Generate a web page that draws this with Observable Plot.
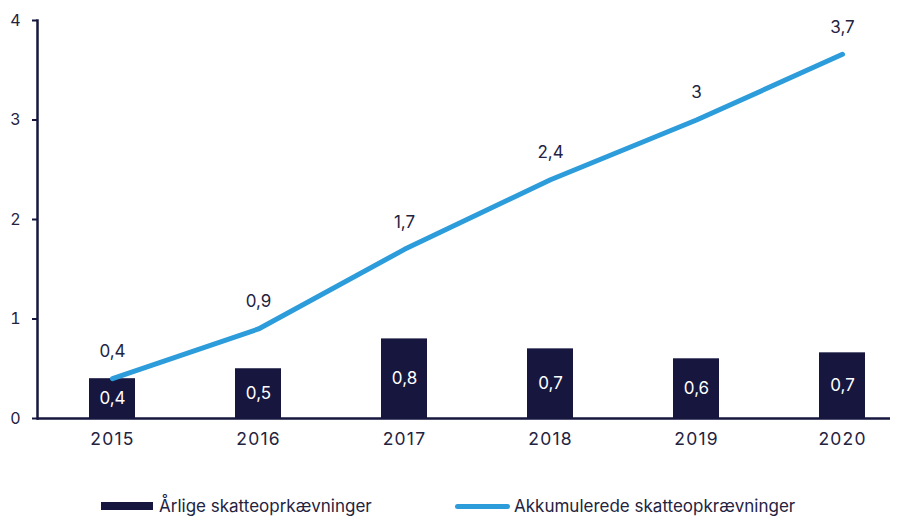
<!DOCTYPE html>
<html>
<head>
<meta charset="utf-8">
<script src="https://cdn.jsdelivr.net/npm/d3@7"></script>
<script src="https://cdn.jsdelivr.net/npm/@observablehq/plot@0.6"></script>
<style>
  body { margin: 0; background: #fff; font-family: Inter, "Noto Sans", sans-serif; color: #23233f; }
  #legend { position: relative; height: 40px; margin-top: 46px; font-size: 17px; }
  .item { position: absolute; top: 0; display: flex; align-items: center; height: 20px; }
  .sw-bar { width: 52px; height: 8px; background: #16163f; margin-right: 6px; }
  .sw-line { width: 55px; height: 5px; border-radius: 3px; background: #2d9cdb; margin-right: 4px; }
  svg g[aria-label="x-axis tick label"] text { letter-spacing: 1.2px; }
</style>
</head>
<body>
<div id="chart"></div>
<div id="legend">
  <div class="item" style="left:101px"><span class="sw-bar"></span><span>Årlige skatteoprkævninger</span></div>
  <div class="item" style="left:455px"><span class="sw-line"></span><span>Akkumulerede skatteopkrævninger</span></div>
</div>
<script>
const years = ["2015", "2016", "2017", "2018", "2019", "2020"];
const annual = [0.4, 0.5, 0.8, 0.7, 0.6, 0.66];
const cumulative = [0.4, 0.9, 1.7, 2.4, 3.0, 3.66];
const yTicks = [0, 1, 2, 3, 4];

const fmt = v => d3.format(".1~f")(v).replace(".", ",");
const barData = years.map((y, i) => ({year: y, value: annual[i]}));
const lineData = years.map((y, i) => ({year: y, value: cumulative[i]}));

const navy = "#16163f";
const blue = "#2d9cdb";
const textCol = "#23233f";

const chart = Plot.plot({
  width: 905,
  height: 450,
  marginTop: 20,
  marginBottom: 32,
  marginLeft: 37,
  marginRight: 15,
  style: {fontFamily: "Inter, 'Noto Sans', sans-serif", fontSize: "16px", color: textCol, background: "#fff"},
  x: {type: "band", domain: years, range: [37, 916], paddingInner: 0.686, paddingOuter: 0.341, label: null},
  y: {domain: [0, 4], label: null},
  marks: [
    Plot.axisY({ticks: yTicks, tickSize: 5, tickPadding: 12, tickFormat: d => String(d), stroke: navy, strokeWidth: 2, fill: textCol, fontSize: 16}),
    Plot.axisX({tickSize: 0, tickPadding: 14, fill: textCol, fontSize: 17.5}),
    Plot.frame({anchor: "left", stroke: navy, strokeWidth: 2.5}),
    Plot.barY(barData, {x: "year", y: "value", fill: navy}),
    Plot.ruleY([0], {stroke: navy, strokeWidth: 2.5}),
    Plot.text(barData, {x: "year", y: d => d.value / 2, text: d => fmt(d.value), fill: "#fff", fontSize: 17}),
    Plot.line(lineData, {x: "year", y: "value", stroke: blue, strokeWidth: 5, strokeLinecap: "round"}),
    Plot.text(lineData, {x: "year", y: "value", text: d => fmt(d.value), dy: -27, fill: textCol, fontSize: 17})
  ]
});
document.getElementById("chart").appendChild(chart);
</script>
</body>
</html>
